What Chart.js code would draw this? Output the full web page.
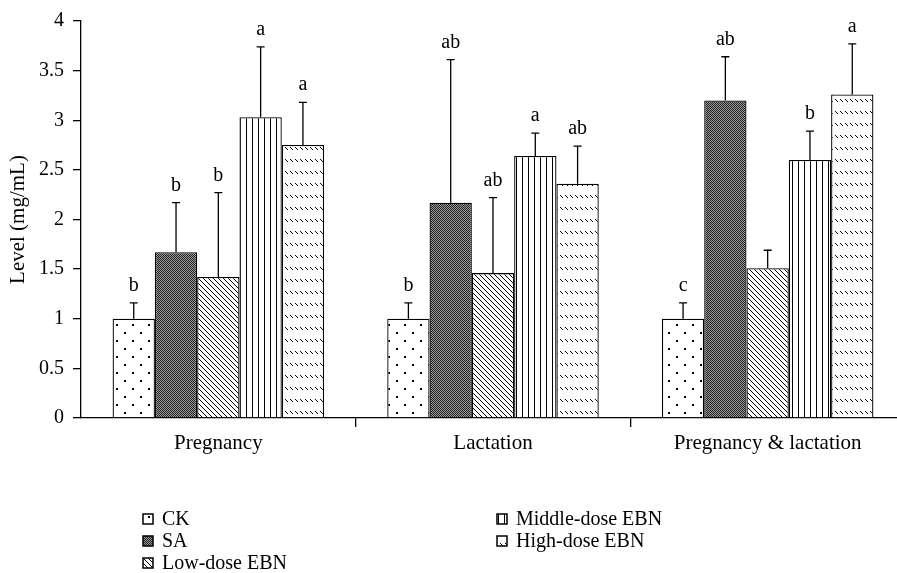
<!DOCTYPE html>
<html>
<head>
<meta charset="utf-8">
<script src="https://cdn.jsdelivr.net/npm/chart.js@4.4.0/dist/chart.umd.min.js"></script>
<style>
  html, body { margin: 0; padding: 0; background: #fff; overflow: hidden; }
  #wrap { width: 910px; height: 573px; }
</style>
</head>
<body>
<div id="wrap"><canvas id="chart" width="910" height="573"></canvas></div>
<script>
const categories = ["Pregnancy", "Lactation", "Pregnancy & lactation"];
const seriesNames = ["CK", "SA", "Low-dose EBN", "Middle-dose EBN", "High-dose EBN"];

// bar heights
const ckValues   = [1.00, 1.00, 1.00];
const saValues   = [1.67, 2.17, 3.20];
const lowValues  = [1.42, 1.46, 1.51];
const midValues  = [3.03, 2.64, 2.60];
const highValues = [2.75, 2.36, 3.26];

// upper end of each error bar
const ckErrTop   = [1.16, 1.16, 1.16];
const saErrTop   = [2.17, 3.61, 3.64];
const lowErrTop  = [2.27, 2.22, 1.69];
const midErrTop  = [3.74, 2.87, 2.89];
const highErrTop = [3.18, 2.74, 3.77];

// significance letters
const ckLetters   = ["b", "b", "c"];
const saLetters   = ["b", "ab", "ab"];
const lowLetters  = ["b", "ab", ""];
const midLetters  = ["a", "a", "b"];
const highLetters = ["a", "ab", "a"];

const yTicks = [0, 0.5, 1, 1.5, 2, 2.5, 3, 3.5, 4];

const FONT = '"Liberation Serif", "DejaVu Serif", serif';
const canvas = document.getElementById("chart");
const ctx = canvas.getContext("2d");

function makePattern(w, h, draw) {
    const c = document.createElement("canvas");
    c.width = w; c.height = h;
    const g = c.getContext("2d");
    g.fillStyle = "#fff";
    g.fillRect(0, 0, w, h);
    g.fillStyle = "#000";
    draw(g, w, h);
    return ctx.createPattern(c, "repeat");
}

const dotPattern = makePattern(16, 16, g => {
    g.fillRect(4, 4, 2, 2);
    g.fillRect(12, 12, 2, 2);
});
const checkPattern = makePattern(2, 2, g => {
    g.fillStyle = "#222";
    g.fillRect(0, 0, 1, 1);
    g.fillRect(1, 1, 1, 1);
    g.fillStyle = "#999";
    g.fillRect(1, 0, 1, 1);
    g.fillRect(0, 1, 1, 1);
});
const diagPattern = makePattern(5, 5, g => {
    for (let i = 0; i < 5; i++) g.fillRect(i, i, 1, 1);
});
const vertPattern = makePattern(6, 1, g => {
    g.fillRect(0, 0, 1, 1);
});
const dashPattern = makePattern(5, 12, g => {
    for (let i = 0; i < 3; i++) g.fillRect(i, 3 + i, 1, 1);
});

const fills = [dotPattern, checkPattern, diagPattern, vertPattern, dashPattern];
const valueSets = [ckValues, saValues, lowValues, midValues, highValues];
const errSets = [ckErrTop, saErrTop, lowErrTop, midErrTop, highErrTop];
const letterSets = [ckLetters, saLetters, lowLetters, midLetters, highLetters];

const datasets = seriesNames.map((name, i) => ({
    label: name,
    data: valueSets[i],
    errTop: errSets[i],
    letters: letterSets[i],
    backgroundColor: fills[i],
    borderColor: "#000",
    borderWidth: 1.3,
    borderSkipped: "bottom",
    barPercentage: 1.0,
    categoryPercentage: 0.77
}));

// error bars plus the letters above them
const errorBars = {
    id: "errorBars",
    afterDatasetsDraw(chart) {
        const c = chart.ctx;
        const y = chart.scales.y;
        c.save();
        c.strokeStyle = "#000";
        c.lineWidth = 1.3;
        c.fillStyle = "#000";
        c.font = "20px " + FONT;
        c.textAlign = "center";
        c.textBaseline = "alphabetic";
        chart.data.datasets.forEach((ds, i) => {
            chart.getDatasetMeta(i).data.forEach((bar, j) => {
                const top = y.getPixelForValue(ds.errTop[j]);
                c.beginPath();
                c.moveTo(bar.x, bar.y);
                c.lineTo(bar.x, top);
                c.moveTo(bar.x - 4, top);
                c.lineTo(bar.x + 4, top);
                c.stroke();
                if (ds.letters[j]) c.fillText(ds.letters[j], bar.x, top - 12);
            });
        });
        c.restore();
    }
};

// two-column legend under the plot
const legendCols = [[0, 1, 2], [3, 4]];
const legendX = [143, 497];
const legendY = [519, 541, 563];
const customLegend = {
    id: "customLegend",
    afterDraw(chart) {
        const c = chart.ctx;
        c.save();
        c.font = "20px " + FONT;
        c.textBaseline = "middle";
        c.textAlign = "left";
        legendCols.forEach((col, ci) => {
            col.forEach((di, ri) => {
                const ds = chart.data.datasets[di];
                const x = legendX[ci], yy = legendY[ri];
                c.fillStyle = ds.backgroundColor;
                c.fillRect(x, yy - 5, 10, 10);
                c.strokeStyle = "#000";
                c.lineWidth = 1.5;
                c.strokeRect(x, yy - 5, 10, 10);
                c.fillStyle = "#000";
                c.fillText(ds.label, x + 19, yy + 1);
            });
        });
        c.restore();
    }
};

new Chart(ctx, {
    type: "bar",
    data: { labels: categories, datasets: datasets },
    options: {
        responsive: false,
        animation: false,
        devicePixelRatio: 1,
        layout: { padding: { top: 17, right: 5, left: 0, bottom: 0 } },
        plugins: {
            legend: { display: false },
            tooltip: { enabled: false }
        },
        scales: {
            x: {
                grid: {
                    offset: true,
                    drawOnChartArea: false,
                    drawTicks: true,
                    tickLength: 9,
                    color: c => c.index === 0 ? "rgba(0,0,0,0)" : "#000",
                    lineWidth: 1.3
                },
                border: { color: "#000", width: 1.3 },
                ticks: { color: "#000", font: { family: FONT, size: 21 }, padding: 4 },
                afterFit: s => { s.height = 155; }
            },
            y: {
                min: 0,
                max: 4,
                afterBuildTicks: s => { s.ticks = yTicks.map(v => ({ value: v })); },
                grid: { drawOnChartArea: false, drawTicks: true, tickLength: 8, color: "#000", lineWidth: 1.3 },
                border: { color: "#000", width: 1.3 },
                ticks: {
                    color: "#000",
                    font: { family: FONT, size: 20 },
                    padding: 9,
                    callback: v => String(v)
                },
                title: {
                    display: true,
                    text: "Level (mg/mL)",
                    color: "#000",
                    font: { family: FONT, size: 21 },
                    padding: { top: 6, bottom: 0 }
                },
                afterFit: s => { s.width = 81; }
            }
        }
    },
    plugins: [errorBars, customLegend]
});
</script>
</body>
</html>
